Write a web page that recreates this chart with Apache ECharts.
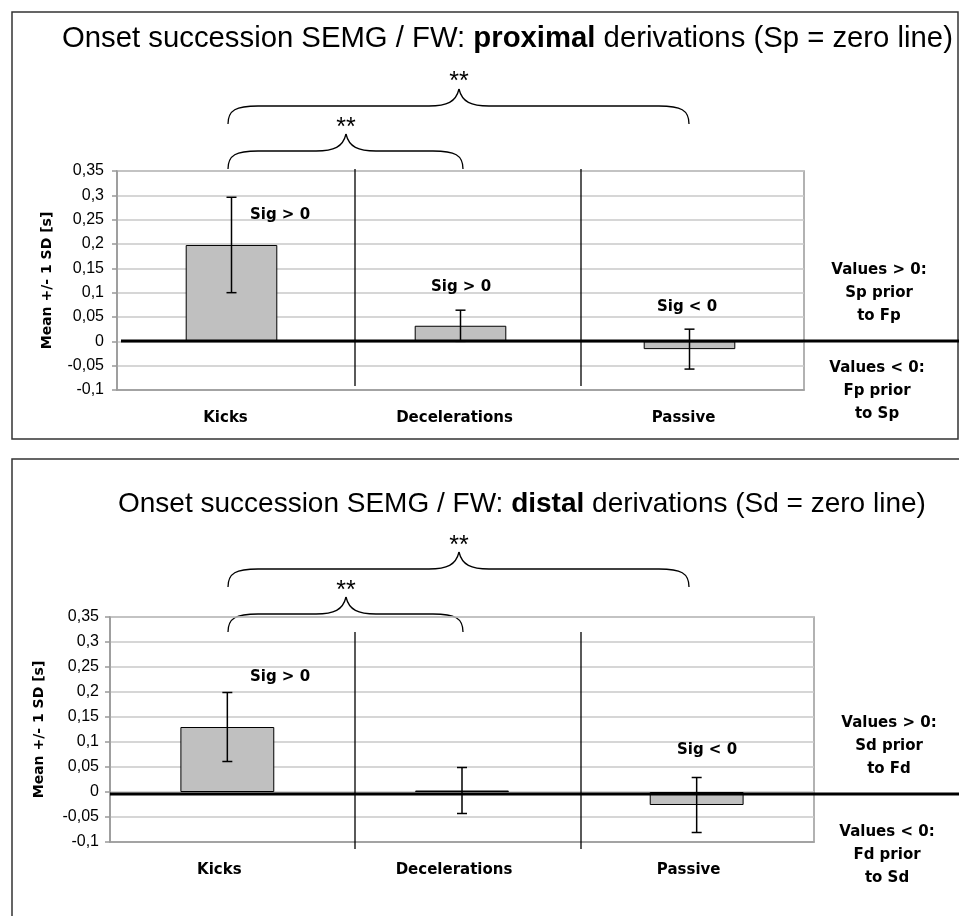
<!DOCTYPE html>
<html>
<head>
<meta charset="utf-8">
<script src="https://cdn.jsdelivr.net/npm/echarts@6/dist/echarts.min.js"></script>
<style>
  html, body { margin: 0; padding: 0; background: #fff; }
  #chart { width: 959px; height: 916px; }
</style>
</head>
<body>
<div id="chart"></div>
<script>
// values
const categories = ['Kicks', 'Decelerations', 'Passive']
const proximalMean = [0.198, 0.032, -0.016]
const proximalSd = [0.098, 0.032, 0.041]
const distalMean = [0.13, 0.003, -0.026]
const distalSd = [0.069, 0.046, 0.055]
const yTickValues = [-0.1, -0.05, 0, 0.05, 0.1, 0.15, 0.2, 0.25, 0.3, 0.35]
const yTickLabels = ['-0,1', '-0,05', '0', '0,05', '0,1', '0,15', '0,2', '0,25', '0,3', '0,35']

const REG = 'Liberation Sans, Arial, sans-serif'
const BOLD = 'DejaVu Sans, Arial, sans-serif'

function tickLabel(value) {
  const i = yTickValues.findIndex(v => Math.abs(v - value) < 1e-6)
  return i >= 0 ? yTickLabels[i] : ''
}

function errorRows(mean, sd) {
  return mean.map((m, i) => [i, m - sd[i], m + sd[i]])
}

function renderErrorBar(params, api) {
  const i = api.value(0)
  const lo = api.coord([i, api.value(1)])
  const hi = api.coord([i, api.value(2)])
  const half = 5
  const style = { stroke: '#000', lineWidth: 1.5 }
  return {
    type: 'group',
    children: [
      { type: 'line', shape: { x1: hi[0], y1: hi[1], x2: lo[0], y2: lo[1] }, style },
      { type: 'line', shape: { x1: hi[0] - half, y1: hi[1], x2: hi[0] + half, y2: hi[1] }, style },
      { type: 'line', shape: { x1: lo[0] - half, y1: lo[1], x2: lo[0] + half, y2: lo[1] }, style }
    ]
  }
}

function makeYAxis(gridIndex, margin, nameGap) {
  return {
    type: 'value',
    gridIndex,
    min: -0.1,
    max: 0.35,
    interval: 0.05,
    name: 'Mean +/- 1 SD [s]',
    nameLocation: 'middle',
    nameGap,
    nameTextStyle: { fontFamily: BOLD, fontWeight: 'bold', fontSize: 14, color: '#000' },
    axisLine: { show: true, lineStyle: { color: '#999', width: 1.5 } },
    axisTick: { show: true, length: 5, lineStyle: { color: '#999', width: 1.5 } },
    axisLabel: { formatter: tickLabel, fontFamily: REG, fontSize: 16, color: '#000', margin },
    splitLine: { lineStyle: { color: '#c8c8c8', width: 1.5 } }
  }
}

function makeXAxis(gridIndex, shift) {
  return {
    type: 'category',
    gridIndex,
    data: categories,
    axisLine: { show: true, onZero: false, lineStyle: { color: '#999', width: 1.5 } },
    axisTick: { show: false },
    axisLabel: {
      fontFamily: BOLD, fontWeight: 'bold', fontSize: 15, color: '#000', margin: 21,
      padding: [0, shift, 0, 0]
    },
    splitLine: { show: false }
  }
}

function barSeries(index, data) {
  return {
    type: 'bar',
    xAxisIndex: index,
    yAxisIndex: index,
    data,
    barWidth: '40%',
    itemStyle: { color: '#c0c0c0', borderColor: '#000', borderWidth: 1 },
    silent: true
  }
}

function errorSeries(index, rows) {
  return {
    type: 'custom',
    xAxisIndex: index,
    yAxisIndex: index,
    data: rows,
    encode: { x: 0, y: [1, 2] },
    renderItem: renderErrorBar,
    z: 5,
    silent: true
  }
}

// curly brace made of bezier pieces and straight runs
function brace(x1, x2, xm, yEnd, yFlat, yTip) {
  const c = 30
  const style = { fill: null, stroke: '#000', lineWidth: 1.3 }
  const curve = (ax, ay, c1x, c1y, c2x, c2y, bx, by) => ({
    type: 'bezierCurve',
    shape: { x1: ax, y1: ay, cpx1: c1x, cpy1: c1y, cpx2: c2x, cpy2: c2y, x2: bx, y2: by },
    style
  })
  const line = (ax, bx) => ({ type: 'line', shape: { x1: ax, y1: yFlat, x2: bx, y2: yFlat }, style })
  return {
    type: 'group',
    z: 20,
    children: [
      curve(x1, yEnd, x1, yFlat + 4, x1 + 8, yFlat, x1 + c, yFlat),
      line(x1 + c, xm - c),
      curve(xm - c, yFlat, xm - 12, yFlat, xm - 3, yFlat - 4, xm, yTip),
      curve(xm, yTip, xm + 3, yFlat - 4, xm + 12, yFlat, xm + c, yFlat),
      line(xm + c, x2 - c),
      curve(x2 - c, yFlat, x2 - 8, yFlat, x2, yFlat + 4, x2, yEnd)
    ]
  }
}

function text(x, y, str, opts) {
  return {
    type: 'text',
    z: 20,
    x,
    y,
    style: Object.assign({
      text: str,
      fill: '#000',
      font: `bold 15px ${BOLD}`,
      align: 'center',
      verticalAlign: 'middle',
      lineHeight: 23
    }, opts || {})
  }
}

function vline(x, y1, y2) {
  return { type: 'line', z: 15, shape: { x1: x, y1, x2: x, y2 }, style: { stroke: '#000', lineWidth: 1.3 } }
}

function hline(x1, x2, y, width) {
  return { type: 'line', z: 15, shape: { x1, y1: y, x2, y2: y }, style: { stroke: '#000', lineWidth: width } }
}

const titleRich = size => ({
  n: { fontFamily: REG, fontSize: size, fontWeight: 'normal', color: '#000', lineHeight: 34 },
  b: { fontFamily: REG, fontSize: size, fontWeight: 'bold', color: '#000', lineHeight: 34 }
})

const chart = echarts.init(document.getElementById('chart'))

const option = {
  animation: false,
  backgroundColor: '#fff',
  title: [
    {
      text: '{n|Onset succession SEMG / FW: }{b|proximal}{n| derivations (Sp = zero line)}',
      left: 62,
      top: 22,
      padding: 0,
      textStyle: { fontWeight: 'normal', rich: titleRich(29.3) }
    },
    {
      text: '{n|Onset succession SEMG / FW: }{b|distal}{n| derivations (Sd = zero line)}',
      left: 118,
      top: 487,
      padding: 0,
      textStyle: { fontWeight: 'normal', rich: titleRich(28) }
    }
  ],
  grid: [
    { left: 117, top: 171, width: 687, height: 219, show: true, borderColor: '#999', borderWidth: 1.5 },
    { left: 110, top: 617, width: 704, height: 225, show: true, borderColor: '#999', borderWidth: 1.5 }
  ],
  xAxis: [makeXAxis(0, 12), makeXAxis(1, 16)],
  yAxis: [makeYAxis(0, 13, 63), makeYAxis(1, 11, 64)],
  series: [
    barSeries(0, proximalMean),
    errorSeries(0, errorRows(proximalMean, proximalSd)),
    barSeries(1, distalMean),
    errorSeries(1, errorRows(distalMean, distalSd))
  ],
  graphic: [
    // panel frames
    { type: 'rect', z: 1, shape: { x: 12, y: 12, width: 946, height: 427 }, style: { fill: null, stroke: '#333', lineWidth: 1.5 } },
    { type: 'polyline', z: 1, shape: { points: [[12, 916], [12, 459], [959, 459]] }, style: { fill: null, stroke: '#333', lineWidth: 1.5 } },

    // zero lines
    hline(121, 959, 341, 3),
    hline(110, 959, 794, 3),

    // dividers
    vline(355, 169, 386),
    vline(581, 169, 386),
    vline(355, 632, 849),
    vline(581, 632, 849),

    // braces and stars
    brace(228, 689, 459, 124, 106, 89),
    brace(228, 463, 346, 169, 151, 134),
    brace(228, 689, 459, 587, 569, 552),
    brace(228, 463, 346, 632, 614, 597),
    text(459, 82, '**', { font: `25px ${REG}` }),
    text(346, 128, '**', { font: `25px ${REG}` }),
    text(459, 546, '**', { font: `25px ${REG}` }),
    text(346, 591, '**', { font: `25px ${REG}` }),

    // significance labels
    text(280, 215, 'Sig > 0'),
    text(461, 287, 'Sig > 0'),
    text(687, 307, 'Sig < 0'),
    text(280, 677, 'Sig > 0'),
    text(707, 750, 'Sig < 0'),

    // side notes
    text(879, 293, 'Values > 0:\nSp prior\nto Fp'),
    text(877, 391, 'Values < 0:\nFp prior\nto Sp'),
    text(889, 746, 'Values > 0:\nSd prior\nto Fd'),
    text(887, 855, 'Values < 0:\nFd prior\nto Sd')
  ]
}

chart.setOption(option)
</script>
</body>
</html>
